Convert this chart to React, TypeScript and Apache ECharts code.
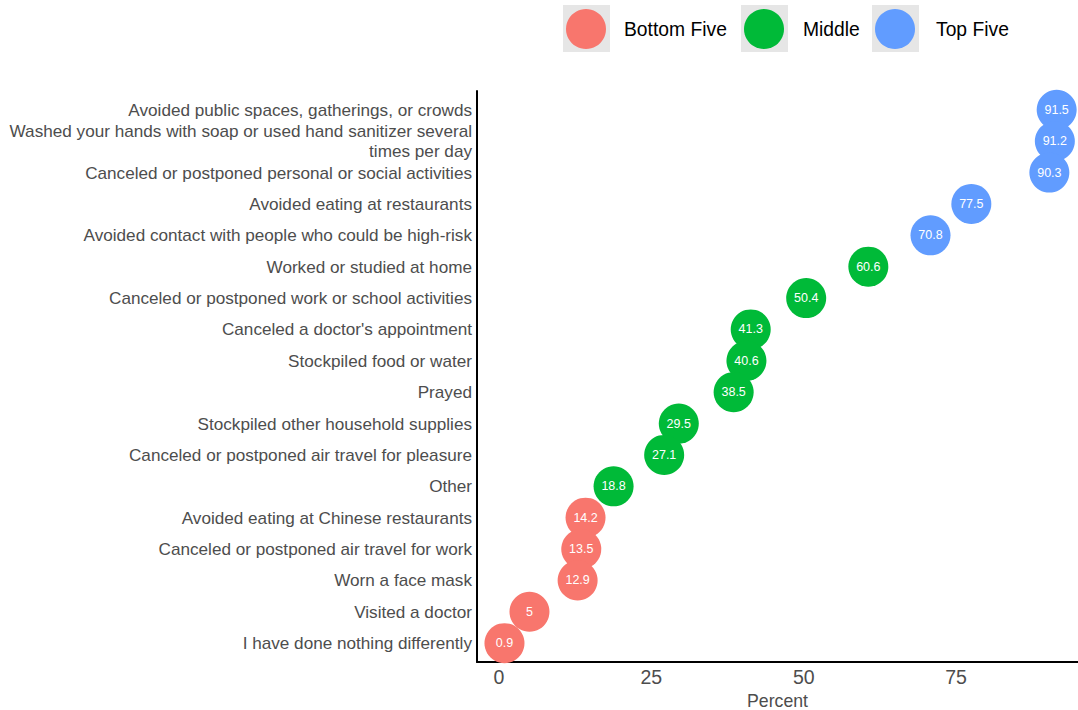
import React, { useEffect, useRef } from "react";
import * as echarts from "echarts";

// Top to bottom as in the chart
const categories: string[] = [
  "Avoided public spaces, gatherings, or crowds",
  "Washed your hands with soap or used hand sanitizer several\ntimes per day",
  "Canceled or postponed personal or social activities",
  "Avoided eating at restaurants",
  "Avoided contact with people who could be high-risk",
  "Worked or studied at home",
  "Canceled or postponed work or school activities",
  "Canceled a doctor's appointment",
  "Stockpiled food or water",
  "Prayed",
  "Stockpiled other household supplies",
  "Canceled or postponed air travel for pleasure",
  "Other",
  "Avoided eating at Chinese restaurants",
  "Canceled or postponed air travel for work",
  "Worn a face mask",
  "Visited a doctor",
  "I have done nothing differently",
];
const percents: number[] = [
  91.5, 91.2, 90.3, 77.5, 70.8, 60.6, 50.4, 41.3, 40.6, 38.5, 29.5, 27.1, 18.8,
  14.2, 13.5, 12.9, 5, 0.9,
];
const groups: string[] = [
  "Top Five", "Top Five", "Top Five", "Top Five", "Top Five",
  "Middle", "Middle", "Middle", "Middle", "Middle", "Middle", "Middle", "Middle",
  "Bottom Five", "Bottom Five", "Bottom Five", "Bottom Five", "Bottom Five",
];
const groupNames: string[] = ["Bottom Five", "Middle", "Top Five"];
const groupColors: string[] = ["#F8766D", "#00BA38", "#619CFF"];
const xTicks: number[] = [0, 25, 50, 75];

const FONT = "'Liberation Sans', Arial, sans-serif";

export default function App() {
  const ref = useRef<HTMLDivElement>(null);
  useEffect(() => {
    if (!ref.current) return;
    const chart = echarts.init(ref.current, undefined, { renderer: "svg" });
    const n = categories.length;
    // y index: bottom row = 0
    const yLabels = categories.map((_, i) => categories[n - 1 - i]);
    const series = groupNames.map((g, gi) => ({
      name: g,
      type: "scatter",
      symbol: "circle",
      symbolSize: 40,
      itemStyle: { color: groupColors[gi], opacity: 1 },
      label: {
        show: true,
        position: "inside",
        color: "#ffffff",
        fontSize: 12.5,
        fontFamily: FONT,
        formatter: (p: any) => String(p.value[0]),
      },
      data: categories
        .map((c, i) => (groups[i] === g ? [percents[i], n - 1 - i] : null))
        .filter((d) => d !== null),
    }));
    const legendLefts = [566, 744, 875];
    const keyLefts = [563, 741, 872];
    const textPads = [13, 14, 16];
    chart.setOption({
      animation: false,
      grid: {
        left: 477,
        right: 0,
        top: 91,
        bottom: 48,
        outerBoundsMode: "none",
        containLabel: false,
      },
      legend: groupNames.map((g, gi) => ({
        data: [g],
        left: legendLefts[gi],
        top: 9,
        padding: 0,
        itemWidth: 40,
        itemHeight: 40,
        icon: "circle",
        selectedMode: false,
        textStyle: {
          fontSize: 19.3,
          color: "#000000",
          fontFamily: FONT,
          padding: [0, 0, 0, textPads[gi]],
        },
      })),
      graphic: [0, 1, 2].map((gi) => ({
        type: "rect",
        z: -10,
        shape: { x: keyLefts[gi], y: 5, width: 47, height: 47 },
        style: { fill: "#e6e6e6" },
      })),
      xAxis: {
        type: "value",
        min: -3.61,
        max: 95,
        name: "Percent",
        nameLocation: "middle",
        nameGap: 28,
        nameTextStyle: { fontSize: 17.7, color: "#4d4d4d", fontFamily: FONT },
        axisLine: {
          show: true,
          onZero: false,
          lineStyle: { color: "#000000", width: 2 },
        },
        axisTick: { show: false },
        splitLine: { show: false },
        axisLabel: {
          customValues: xTicks,
          fontSize: 19.5,
          color: "#4d4d4d",
          margin: 5,
          fontFamily: FONT,
        },
      },
      yAxis: {
        type: "value",
        min: -0.6,
        max: n - 1 + 0.6,
        axisLine: {
          show: true,
          onZero: false,
          lineStyle: { color: "#000000", width: 2 },
        },
        axisTick: { show: false },
        splitLine: { show: false },
        axisLabel: {
          customValues: yLabels.map((_, i) => i),
          formatter: (v: number) => yLabels[Math.round(v)] ?? "",
          fontSize: 17.15,
          lineHeight: 20,
          color: "#4d4d4d",
          margin: 5,
          align: "right",
          fontFamily: FONT,
        },
      },
      series,
    });
    return () => chart.dispose();
  }, []);
  return (
    <div
      ref={ref}
      style={{ position: "absolute", left: 0, top: 0, width: 1078, height: 710 }}
    />
  );
}
